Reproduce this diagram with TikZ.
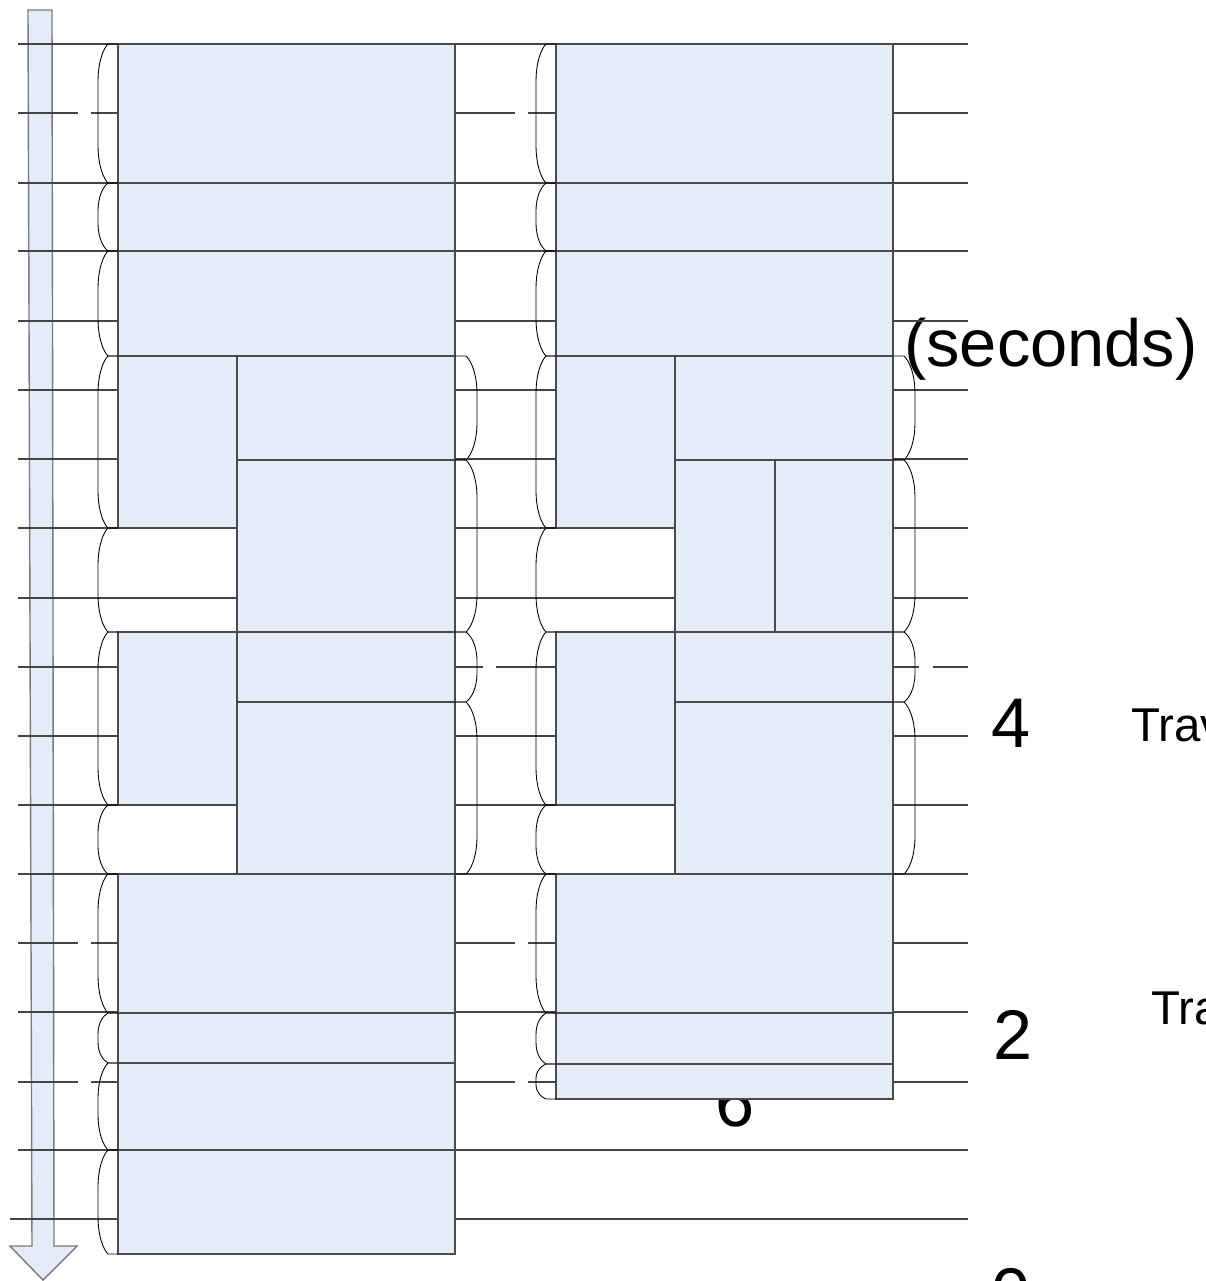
\documentclass[tikz,border=0pt]{standalone}
\usepackage{fontspec}
\setmainfont{Liberation Sans}
\usetikzlibrary{positioning}
\definecolor{SlotFill}{HTML}{E6ECF7}
\definecolor{SlotEdge}{HTML}{4A4A4A}
\definecolor{GridGray}{HTML}{444444}
\definecolor{ArrowEdge}{HTML}{7A7A7A}
\tikzset{
  slotbox/.style={
    draw=SlotEdge,
    fill=SlotFill,
    line width=0.8pt
  },
  gridline/.style={draw=GridGray,line width=0.7pt},
  curlline/.style={draw=black,line width=0.5pt},
  timearrow/.style={draw=ArrowEdge,fill=SlotFill,line width=0.8pt},
  biglabel/.style={font=\fontsize{40}{44}\selectfont,inner sep=0pt,anchor=base},
  unitlabel/.style={font=\fontsize{38}{42}\selectfont,inner sep=0pt,anchor=base west},
  sidelabel/.style={font=\fontsize{27}{30}\selectfont,inner sep=0pt,anchor=base west}
}
% #1 box edge, #2 cusp, #3 top, #4 bottom
\newcommand{\slotcurl}[4]{%
  \pgfmathsetmacro\curlbulge{2*#2-#1}%
  \pgfmathsetmacro\curlbend{#2+0.45*(\curlbulge-#2)}%
  \pgfmathsetmacro\curlend{min(38,(#4-#3)/2.4)}%
  \draw[curlline] (#1,#3) -- (#2,#3)
    .. controls (\curlbend,#3+0.12*\curlend) and (\curlbulge,#3+0.45*\curlend) .. (\curlbulge,#3+\curlend)
    -- (\curlbulge,#4-\curlend)
    .. controls (\curlbulge,#4-0.45*\curlend) and (\curlbend,#4-0.12*\curlend) .. (#2,#4) -- (#1,#4);}

\begin{document}
\begin{tikzpicture}[x=0.02cm,y=-0.02cm]
  \useasboundingbox (0,0) rectangle (1206,1281);
  \fill[white] (0,0) rectangle (1206,1281);
  % time arrow
  \draw[timearrow] (28,10) -- (52,10) -- (54,1246) -- (77,1246) -- (43,1280)
    -- (10,1246) -- (32,1246) -- cycle;
  % labels
  \node[unitlabel] (unit) at (904,366) {(seconds)};
  \node[biglabel] (tick4) at (1011,747) {4};
  \node[biglabel] (tick2) at (1013,1059) {2};
  \node[biglabel] (tick0) at (1011,1317) {0};
  \node[biglabel] (mark6) at (735,1126) {6};
  \node[sidelabel] (trava) at (1131,741) {Trav};
  \node[sidelabel] (travb) at (1151,1024) {Tra};
  % grid
  \foreach \gy in {44,183,251,321,390,459,528,598,736,805,874,1012,1150}
    \draw[gridline] (18,\gy) -- (968,\gy);
  \foreach \gy in {113,943,1082}
    \draw[gridline] (18,\gy) -- (78,\gy) (91,\gy) -- (515,\gy) (528,\gy) -- (968,\gy);
  \draw[gridline] (18,667) -- (483,667) (496,667) -- (919,667) (933,667) -- (968,667);
  \draw[gridline] (10,1219) -- (968,1219);
  % first schedule
  \foreach \xa/\ya/\xb/\yb in {118/44/455/183,118/183/455/251,118/251/455/356,
      118/356/237/528,118/632/237/805,237/356/455/460,237/460/455/632,
      237/632/455/702,237/702/455/874,118/874/455/1013,118/1013/455/1063,
      118/1063/455/1150,118/1150/455/1254}
    \draw[slotbox] (\xa,\ya) rectangle (\xb,\yb);
  % second schedule
  \foreach \xa/\ya/\xb/\yb in {556/44/893/183,556/183/893/251,556/251/893/356,
      556/356/675/528,556/632/675/805,675/356/893/460,675/460/775/632,
      775/460/893/632,675/632/893/702,675/702/893/874,556/874/893/1013,
      556/1013/893/1064,556/1064/893/1099}
    \draw[slotbox] (\xa,\ya) rectangle (\xb,\yb);
  % braces
  \foreach \ytop/\ybot in {44/183,183/251,251/356,356/528,528/632,632/805,
      805/874,874/1013,1013/1063,1063/1150,1150/1254}
    \slotcurl{118}{108}{\ytop}{\ybot};
  \foreach \ytop/\ybot in {44/183,183/251,251/356,356/528,528/632,632/805,
      805/874,874/1013,1013/1064,1064/1099}
    \slotcurl{556}{546}{\ytop}{\ybot};
  \foreach \ytop/\ybot in {356/460,460/632,632/702,702/874} {
    \slotcurl{455}{466}{\ytop}{\ybot};
    \slotcurl{893}{904}{\ytop}{\ybot};
  }
\end{tikzpicture}
\end{document}
